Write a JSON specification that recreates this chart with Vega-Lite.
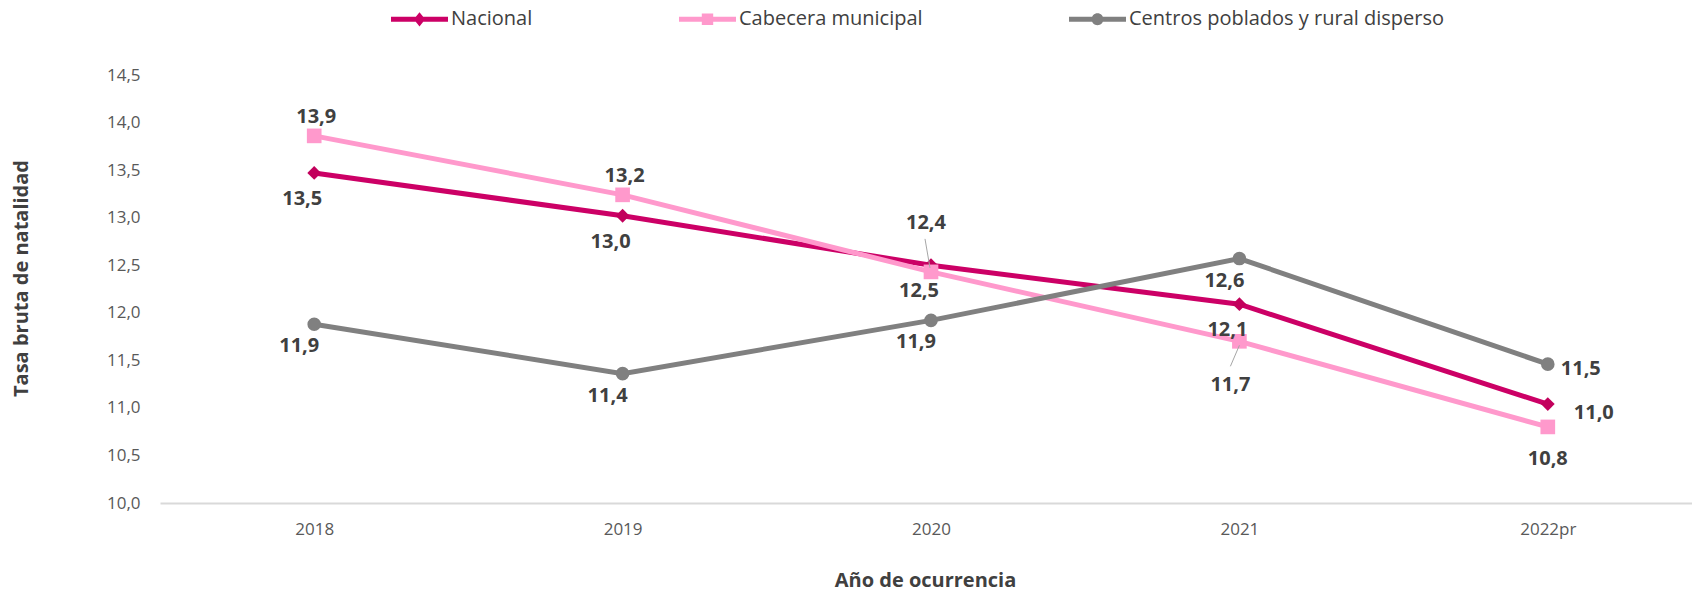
{
  "$schema": "https://vega.github.io/schema/vega-lite/v6.json",
  "autosize": {"type": "none"},
  "padding": {"left": 160, "top": 75, "right": 0, "bottom": 90},
  "width": 1542,
  "height": 428,
  "background": "white",
  "config": {
    "locale": {"number": {"decimal": ",", "thousands": ".", "grouping": [3], "currency": ["$", ""]}},
    "view": {"stroke": null},
    "font": "Open Sans"
  },
  "data": {
    "values": [
      {"anio": "2018", "serie": "Nacional", "valor": 13.47},
      {"anio": "2019", "serie": "Nacional", "valor": 13.02},
      {"anio": "2020", "serie": "Nacional", "valor": 12.50},
      {"anio": "2021", "serie": "Nacional", "valor": 12.09},
      {"anio": "2022pr", "serie": "Nacional", "valor": 11.04},
      {"anio": "2018", "serie": "Cabecera municipal", "valor": 13.86},
      {"anio": "2019", "serie": "Cabecera municipal", "valor": 13.24},
      {"anio": "2020", "serie": "Cabecera municipal", "valor": 12.43},
      {"anio": "2021", "serie": "Cabecera municipal", "valor": 11.70},
      {"anio": "2022pr", "serie": "Cabecera municipal", "valor": 10.80},
      {"anio": "2018", "serie": "Centros poblados y rural disperso", "valor": 11.88},
      {"anio": "2019", "serie": "Centros poblados y rural disperso", "valor": 11.36},
      {"anio": "2020", "serie": "Centros poblados y rural disperso", "valor": 11.92},
      {"anio": "2021", "serie": "Centros poblados y rural disperso", "valor": 12.57},
      {"anio": "2022pr", "serie": "Centros poblados y rural disperso", "valor": 11.46}
    ]
  },
  "encoding": {
    "x": {
      "field": "anio", "type": "ordinal",
      "sort": ["2018", "2019", "2020", "2021", "2022pr"],
      "scale": {"type": "point", "padding": 0.5},
      "axis": {
        "title": "Año de ocurrencia",
        "labelAngle": 0, "ticks": false, "domainColor": "#d9d9d9", "domainWidth": 2,
        "labelFontSize": 17, "labelColor": "#595959", "labelPadding": 18,
        "titleFontSize": 20, "titleFontWeight": "bold", "titleColor": "#404040",
        "titleX": 765, "titleY": 77, "titleBaseline": "middle", "titleAnchor": "middle",
        "grid": false
      }
    },
    "y": {
      "field": "valor", "type": "quantitative",
      "scale": {"domain": [10, 14.5], "nice": false, "zero": false},
      "axis": {
        "title": "Tasa bruta de natalidad",
        "values": [10, 10.5, 11, 11.5, 12, 12.5, 13, 13.5, 14, 14.5],
        "format": ".1f", "domain": false, "ticks": false, "grid": false,
        "labelFontSize": 17, "labelColor": "#595959", "labelPadding": 20,
        "titleFontSize": 20, "titleFontWeight": "bold", "titleColor": "#404040",
        "titleX": -139, "titleY": 203, "titleBaseline": "middle", "titleAngle": -90
      }
    }
  },
  "layer": [
    {
      "transform": [{"filter": "datum.serie === 'Nacional'"}],
      "mark": {"type": "line", "strokeWidth": 5, "color": "#CC0066"}
    },
    {
      "transform": [{"filter": "datum.serie === 'Nacional'"}],
      "mark": {"type": "point", "shape": "diamond", "filled": true, "opacity": 1, "size": 190, "color": "#C2005C"}
    },
    {
      "transform": [{"filter": "datum.serie === 'Cabecera municipal'"}],
      "mark": {"type": "line", "strokeWidth": 5, "color": "#FF99CC"}
    },
    {
      "transform": [{"filter": "datum.serie === 'Cabecera municipal'"}],
      "mark": {"type": "point", "shape": "square", "filled": true, "opacity": 1, "size": 215, "color": "#FF99CC"}
    },
    {
      "transform": [{"filter": "datum.serie === 'Centros poblados y rural disperso'"}],
      "mark": {"type": "line", "strokeWidth": 5, "color": "#808080"}
    },
    {
      "transform": [{"filter": "datum.serie === 'Centros poblados y rural disperso'"}],
      "mark": {"type": "point", "shape": "circle", "filled": true, "opacity": 1, "size": 185, "color": "#808080"}
    },
    {
      "mark": {"type": "point", "filled": true, "opacity": 0},
      "encoding": {
        "color": {
          "field": "serie", "type": "nominal",
          "scale": {"domain": ["Nacional", "Cabecera municipal", "Centros poblados y rural disperso"], "range": ["#CC0066", "#FF99CC", "#808080"]},
          "legend": {
            "orient": "none", "legendX": 231, "legendY": -84.5, "direction": "horizontal",
            "title": null, "padding": 0, "symbolSize": 3249, "symbolStrokeWidth": 0, "symbolOpacity": 1,
            "labelFontSize": 20, "labelColor": "#404040", "labelOffset": 3, "labelLimit": 0,
            "columnPadding": 146
          }
        },
        "shape": {
          "field": "serie", "type": "nominal",
          "scale": {
            "domain": ["Nacional", "Cabecera municipal", "Centros poblados y rural disperso"],
            "range": [
              "M-1,-0.09 L1,-0.09 L1,0.09 L-1,0.09 Z M0,-0.25 L0.2,0 L0,0.25 L-0.2,0 Z",
              "M-1,-0.09 L1,-0.09 L1,0.09 L-1,0.09 Z M-0.2,-0.2 L0.2,-0.2 L0.2,0.2 L-0.2,0.2 Z",
              "M-1,-0.09 L1,-0.09 L1,0.09 L-1,0.09 Z M0.21,0 A0.21,0.21 0 1,1 -0.21,0 A0.21,0.21 0 1,1 0.21,0 Z"
            ]
          },
          "legend": {
            "orient": "none", "legendX": 231, "legendY": -84.5, "direction": "horizontal",
            "title": null, "padding": 0, "symbolSize": 3249, "symbolStrokeWidth": 0, "symbolOpacity": 1,
            "labelFontSize": 20, "labelColor": "#404040", "labelOffset": 3, "labelLimit": 0,
            "columnPadding": 146
          }
        }
      }
    },
    {
      "transform": [{"filter": "datum.serie === 'Nacional' && datum.anio !== '2022pr'"}],
      "mark": {"type": "text", "fontSize": 20, "fontWeight": "bold", "color": "#404040", "dx": -12, "dy": 26, "baseline": "middle", "align": "center"},
      "encoding": {"text": {"field": "valor", "type": "quantitative", "format": ".1f"}}
    },
    {
      "transform": [{"filter": "datum.serie === 'Centros poblados y rural disperso' && datum.anio !== '2022pr'"}],
      "mark": {"type": "text", "fontSize": 20, "fontWeight": "bold", "color": "#404040", "dx": -15, "dy": 22, "baseline": "middle", "align": "center"},
      "encoding": {"text": {"field": "valor", "type": "quantitative", "format": ".1f"}}
    },
    {
      "transform": [{"filter": "datum.serie === 'Cabecera municipal' && (datum.anio === '2018' || datum.anio === '2019')"}],
      "mark": {"type": "text", "fontSize": 20, "fontWeight": "bold", "color": "#404040", "dx": 2, "dy": -19, "baseline": "middle", "align": "center"},
      "encoding": {"text": {"field": "valor", "type": "quantitative", "format": ".1f"}}
    },
    {
      "transform": [{"filter": "datum.serie === 'Cabecera municipal' && datum.anio === '2020'"}],
      "mark": {"type": "text", "fontSize": 20, "fontWeight": "bold", "color": "#404040", "dx": -5, "dy": -49, "baseline": "middle", "align": "center"},
      "encoding": {"text": {"field": "valor", "type": "quantitative", "format": ".1f"}}
    },
    {
      "transform": [{"filter": "datum.serie === 'Cabecera municipal' && datum.anio === '2021'"}],
      "mark": {"type": "text", "fontSize": 20, "fontWeight": "bold", "color": "#404040", "dx": -9, "dy": 44, "baseline": "middle", "align": "center"},
      "encoding": {"text": {"field": "valor", "type": "quantitative", "format": ".1f"}}
    },
    {
      "transform": [{"filter": "datum.serie === 'Cabecera municipal' && datum.anio === '2022pr'"}],
      "mark": {"type": "text", "fontSize": 20, "fontWeight": "bold", "color": "#404040", "dx": 0, "dy": 32, "baseline": "middle", "align": "center"},
      "encoding": {"text": {"field": "valor", "type": "quantitative", "format": ".1f"}}
    },
    {
      "transform": [{"filter": "datum.serie === 'Nacional' && datum.anio === '2022pr'"}],
      "mark": {"type": "text", "fontSize": 20, "fontWeight": "bold", "color": "#404040", "dx": 46, "dy": 9, "baseline": "middle", "align": "center"},
      "encoding": {"text": {"field": "valor", "type": "quantitative", "format": ".1f"}}
    },
    {
      "transform": [{"filter": "datum.serie === 'Centros poblados y rural disperso' && datum.anio === '2022pr'"}],
      "mark": {"type": "text", "fontSize": 20, "fontWeight": "bold", "color": "#404040", "dx": 33, "dy": 5, "baseline": "middle", "align": "center"},
      "encoding": {"text": {"field": "valor", "type": "quantitative", "format": ".1f"}}
    },
    {
      "transform": [{"filter": "datum.serie === 'Cabecera municipal' && datum.anio === '2020'"}],
      "mark": {"type": "rule", "color": "#a6a6a6", "strokeWidth": 1, "xOffset": -6, "yOffset": -33, "x2Offset": -1, "y2Offset": -4},
      "encoding": {"x2": {"field": "anio"}, "y2": {"field": "valor"}}
    },
    {
      "transform": [{"filter": "datum.serie === 'Cabecera municipal' && datum.anio === '2021'"}],
      "mark": {"type": "rule", "color": "#a6a6a6", "strokeWidth": 1, "xOffset": 0, "yOffset": 4, "x2Offset": -9, "y2Offset": 25},
      "encoding": {"x2": {"field": "anio"}, "y2": {"field": "valor"}}
    }
  ]
}
